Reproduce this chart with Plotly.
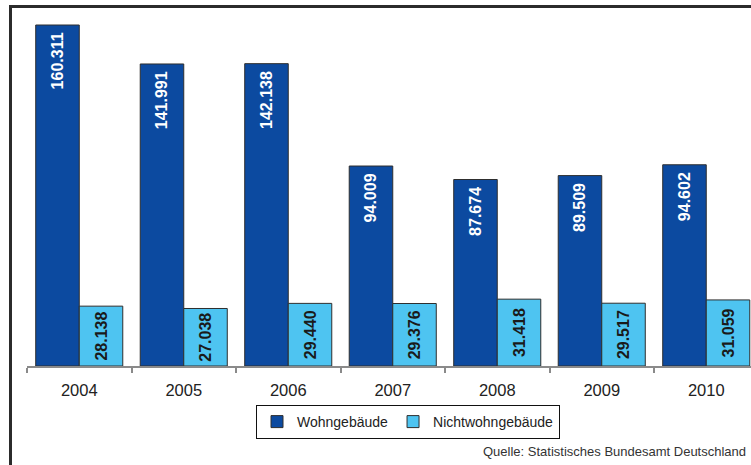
import plotly.graph_objects as go

# Baufertigstellungen nach Gebäudeart
years = ["2004", "2005", "2006", "2007", "2008", "2009", "2010"]
wohngebaeude = [160311, 141991, 142138, 94009, 87674, 89509, 94602]
nichtwohngebaeude = [28138, 27038, 29440, 29376, 31418, 29517, 31059]

DARK = "#0c4aa0"
LIGHT = "#4ec4f1"
FONT = "Arial, Liberation Sans, sans-serif"

W, H = 751, 465
ML, MR, MT, MB = 27, 0, 8, 99
plot_w = W - ML - MR
plot_h = H - MT - MB


def px_x(p):
    return (p - ML) / plot_w


def px_y(p):
    return (H - MB - p) / plot_h


fig = go.Figure()
fig.add_trace(go.Bar(
    name="Wohngebäude", x=years, y=wohngebaeude,
    marker=dict(color=DARK, line=dict(color="#2e2e2e", width=1)),
    texttemplate="%{y:,}\u00a0", textposition="inside", insidetextanchor="end",
    textangle=-90, constraintext="none",
    textfont=dict(family=FONT, size=16, color="white", weight="bold"),
))
fig.add_trace(go.Bar(
    name="Nichtwohngebäude", x=years, y=nichtwohngebaeude,
    marker=dict(color=LIGHT, line=dict(color="#2e2e2e", width=1)),
    texttemplate="%{y:,}", textposition="inside", insidetextanchor="middle",
    textangle=-90, constraintext="none",
    textfont=dict(family=FONT, size=16, color="#1a1a1a", weight="bold"),
))

top = wohngebaeude[0] * plot_h / 341.0

fig.update_layout(
    width=W, height=H, autosize=False,
    margin=dict(l=ML, r=MR, t=MT, b=MB, autoexpand=False),
    paper_bgcolor="white", plot_bgcolor="white",
    separators=",.",
    barmode="group", bargap=0.167, bargroupgap=0,
    font=dict(family=FONT, color="#222222"),
    showlegend=True,
    legend=dict(
        orientation="h", x=px_x(408), xanchor="center",
        y=px_y(422), yanchor="middle",
        bordercolor="#111111", borderwidth=1, bgcolor="white",
        font=dict(family=FONT, size=14, color="#222222"),
        itemwidth=30, tracegroupgap=0,
    ),
    xaxis=dict(
        type="category", range=[-0.5, -0.5 + plot_w / 104.5],
        showline=True, linecolor="#8a8a8a", linewidth=1.5,
        ticks="outside", ticklen=5, tickcolor="#8a8a8a", tickwidth=1.5,
        tickson="boundaries", ticklabelstandoff=8,
        tickfont=dict(family=FONT, size=16.5, color="#222222"),
        showgrid=False, zeroline=False, fixedrange=True,
    ),
    yaxis=dict(range=[0, top], visible=False, fixedrange=True),
    shapes=[
        dict(type="line", xref="paper", yref="paper",
             x0=px_x(10.5), x1=px_x(10.5), y0=px_y(5), y1=px_y(H + 2),
             line=dict(color="#2b2b2b", width=3)),
        dict(type="line", xref="paper", yref="paper",
             x0=px_x(9), x1=px_x(W + 2), y0=px_y(6.5), y1=px_y(6.5),
             line=dict(color="#2b2b2b", width=3)),
    ],
    annotations=[
        dict(text="Quelle: Statistisches Bundesamt Deutschland",
             xref="paper", yref="paper", x=px_x(748), y=px_y(452),
             xanchor="right", yanchor="middle", showarrow=False,
             font=dict(family=FONT, size=13, color="#333333")),
    ],
)

fig.write_html("out.html")
